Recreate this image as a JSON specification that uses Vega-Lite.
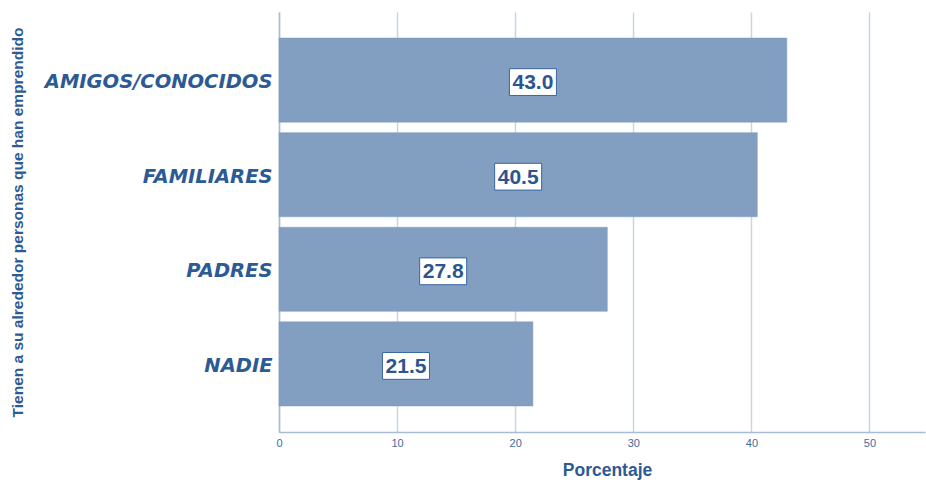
{
  "$schema": "https://vega.github.io/schema/vega-lite/v6.json",
  "width": 646,
  "height": 420,
  "autosize": "none",
  "padding": {"left": 279, "top": 12, "right": 1, "bottom": 52},
  "background": "white",
  "config": {"view": {"stroke": null}, "font": "Liberation Sans"},
  "data": {"values": [
    {"grupo": "AMIGOS/CONOCIDOS", "pct": 43.0, "mid": 21.5},
    {"grupo": "FAMILIARES", "pct": 40.5, "mid": 20.25},
    {"grupo": "PADRES", "pct": 27.8, "mid": 13.9},
    {"grupo": "NADIE", "pct": 21.5, "mid": 10.75}
  ]},
  "encoding": {
    "y": {
      "field": "grupo", "type": "nominal", "sort": null,
      "scale": {"paddingInner": 0.111, "paddingOuter": 0.275},
      "axis": {
        "title": "Tienen a su alrededor personas que han emprendido",
        "titleFont": "Liberation Sans", "titleFontSize": 15.5, "titleFontWeight": "bold",
        "titleColor": "#2c5a94", "titleX": -262, "titleBaseline": "middle",
        "labelFont": "DejaVu Sans", "labelFontSize": 19.5, "labelFontWeight": "bold",
        "labelFontStyle": "italic", "labelColor": "#2c5a94", "labelPadding": 7,
        "labelLimit": 300, "labelOffset": 2,
        "ticks": false, "domainColor": "#a9bcd6", "domainWidth": 1.5, "grid": false
      }
    }
  },
  "layer": [
    {
      "mark": {"type": "bar", "color": "#829ec1", "stroke": "#7d99bd", "strokeWidth": 0.5},
      "encoding": {
        "x": {
          "field": "pct", "type": "quantitative",
          "scale": {"domain": [0, 54.7], "nice": false},
          "axis": {
            "title": "Porcentaje", "values": [0, 10, 20, 30, 40, 50],
            "titleFont": "Liberation Sans", "titleFontSize": 17.5, "titleFontWeight": "bold",
            "titleColor": "#2c5a94", "titlePadding": 13, "titleX": 328,
            "labelFont": "Liberation Sans", "labelFontSize": 11, "labelColor": "#3e6aa2",
            "labelPadding": 5, "labelFlush": false, "ticks": false,
            "domainColor": "#a9bcd6", "domainWidth": 1.5,
            "grid": true, "gridColor": "#c9d5e6", "gridWidth": 1.5
          }
        }
      }
    },
    {
      "mark": {"type": "point", "shape": "M-1,-0.57H1V0.57H-1Z", "size": 2209, "filled": true, "fill": "white", "stroke": "#3a66a0", "strokeWidth": 1, "opacity": 1, "yOffset": 2},
      "encoding": {"x": {"field": "mid", "type": "quantitative"}}
    },
    {
      "mark": {"type": "text", "font": "Liberation Sans", "fontSize": 21, "fontWeight": "bold", "color": "#2b5590", "baseline": "middle", "align": "center", "yOffset": 3},
      "encoding": {
        "x": {"field": "mid", "type": "quantitative"},
        "text": {"field": "pct", "type": "quantitative", "format": ".1f"}
      }
    }
  ]
}
